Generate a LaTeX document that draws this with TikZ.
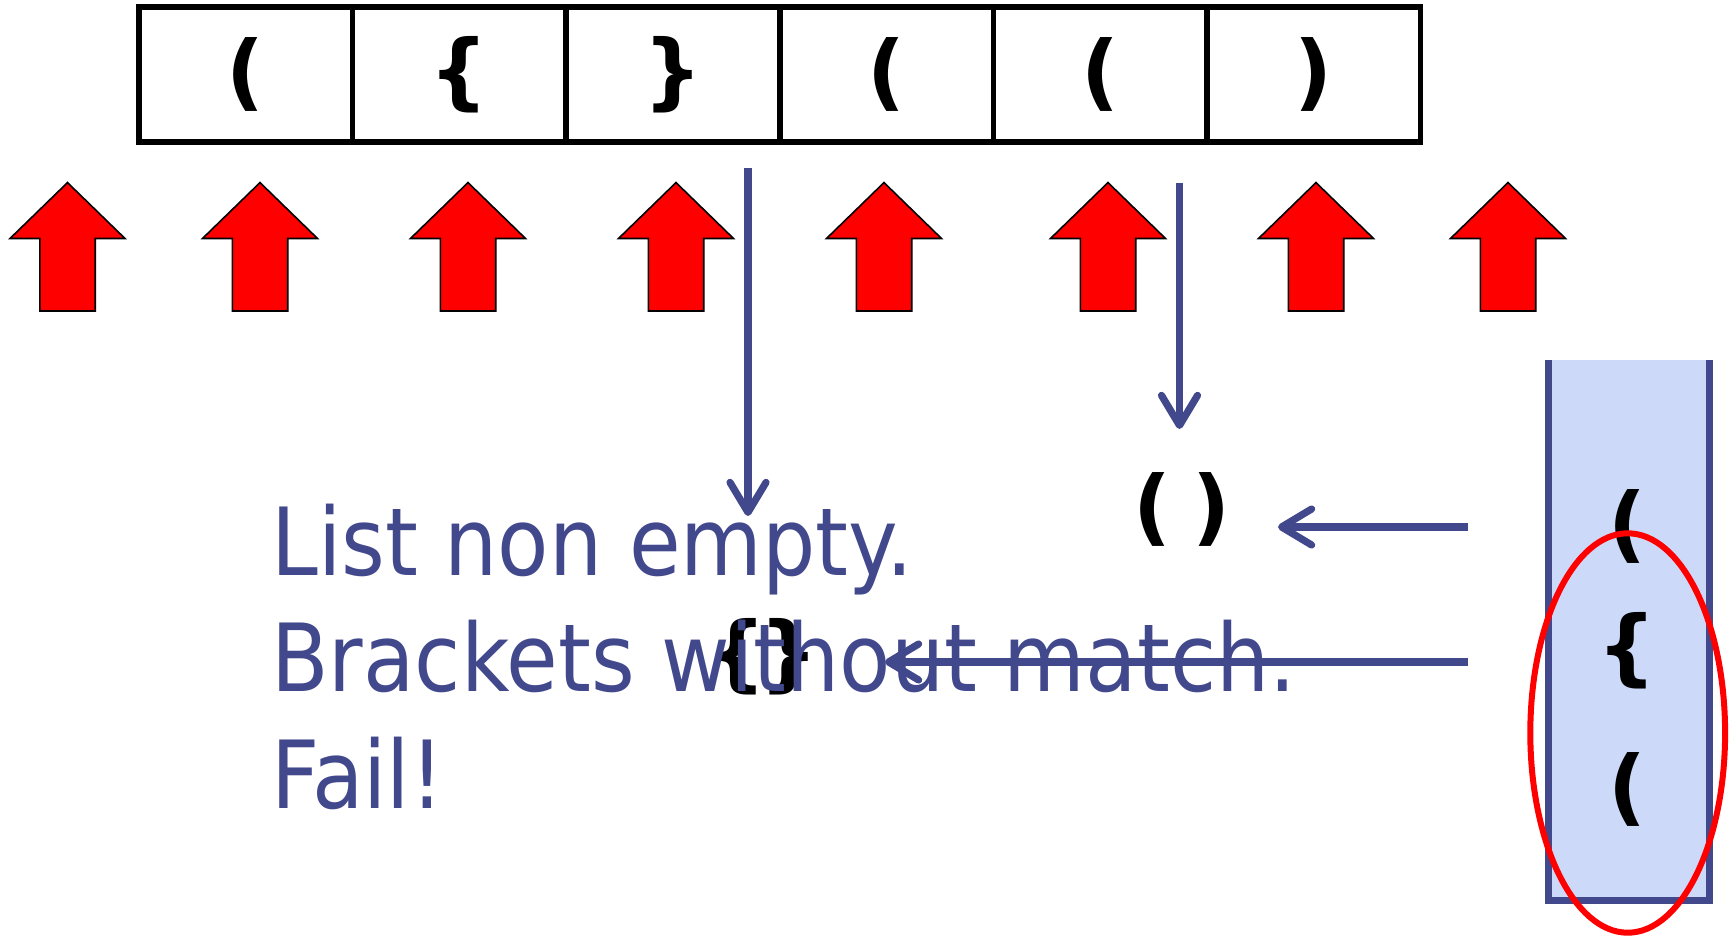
\documentclass[tikz,border=0pt]{standalone}
\usepackage{fontspec}
\usetikzlibrary{arrows.meta,shapes.geometric}
\newfontfamily\txtfont{DejaVu Sans}[FakeStretch=0.893]
\newfontfamily\brfont{DejaVu Sans Bold}
\definecolor{myblue}{RGB}{66,72,140}
\definecolor{stackfill}{RGB}{204,217,248}
\tikzset{
  cellbox/.style={draw=black, line width=2.75pt, minimum width=106.8pt, minimum height=67.5pt, inner sep=0pt, font=\brfont\fontsize{41.5}{50}\selectfont},
  brk/.style={inner sep=0pt, font=\brfont\fontsize{41.5}{50}\selectfont},
  txt/.style={inner sep=0pt, anchor=base west, text=myblue, font=\txtfont\fontsize{47}{56}\selectfont},
  redarrow/.style={fill=red, draw=black, line width=0.8pt},
  bluearrow/.style={draw=myblue, line width=3.6pt, -{Straight Barb[length=15pt,width=18pt,round]}},
}
\begin{document}
\begin{tikzpicture}[x=0.5pt,y=-0.5pt]
\path[use as bounding box] (0,0) rectangle (1735,936);
% top list
\foreach \i/\t in {1/(,2/\{,3/\},4/(,5/(,6/)} {
  \node[cellbox] (c\i) at ({139+213.6*(\i-0.5)},74.5) {\t};
}
% red arrows
\foreach \cx [count=\k] in {67.5,260,468,676,884,1108,1316,1508} {
  \draw[redarrow] (\cx,182.6) -- ({\cx+57.5},238.5) -- ({\cx+27.7},238.5) -- ({\cx+27.7},311) -- ({\cx-27.7},311) -- ({\cx-27.7},238.5) -- ({\cx-57.5},238.5) -- cycle;
}
% stack
\fill[stackfill] (1548,360) rectangle (1709,900);
\draw[myblue, line width=3.5pt] (1548,360) -- (1548,900) -- (1709,900) -- (1709,360);
\node[brk] (st1) at (1627,526) {(};
\node[brk] (st2) at (1627,651) {\{};
\node[brk] (st3) at (1627,789) {(};
\node[draw=red, line width=3pt, ellipse, minimum width=97.4pt, minimum height=199.7pt, inner sep=0pt] (ring) at (1627.7,733) {};
% matched pairs
\node[brk] (pp) at (1182,509) {(\hspace{10.4pt})};
\node[brk] (bb) at (763,657) {\{\kern-4pt\}};
% text
\node[txt] (l1) at (271,575) {List non empty.};
\node[txt] (l2) at (271,691.5) {Brackets without match.};
\node[txt] (l3) at (271,808) {Fail!};
% connectors
\coordinate (s1) at (748,168);
\coordinate (e1) at (748,516);
\coordinate (s2) at (1179.5,182.6);
\coordinate (e2) at (1179.5,429);
\coordinate (h1) at (1468,527);
\coordinate (t1) at (1278,527);
\coordinate (h2) at (1468,662);
\coordinate (t2) at (885,662);
\draw[bluearrow] (s1) -- (e1);
\draw[bluearrow] (s2) -- (e2);
\draw[bluearrow] (h1) -- (t1);
\draw[bluearrow] (h2) -- (t2);
\end{tikzpicture}
\end{document}
